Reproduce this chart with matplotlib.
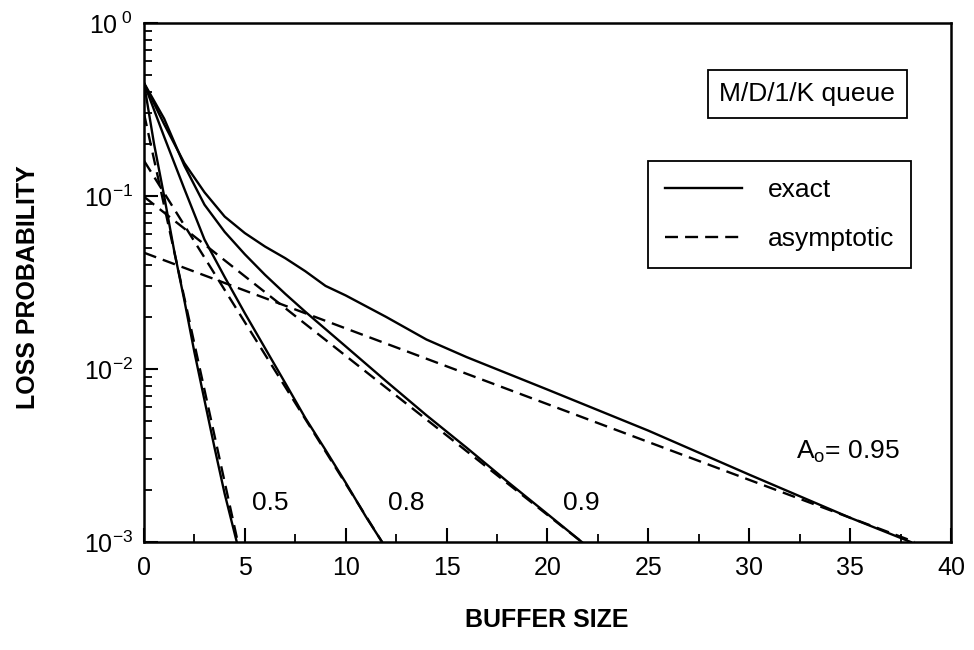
import numpy as np
import matplotlib
matplotlib.use('Agg')
import matplotlib.pyplot as plt
from matplotlib.ticker import FixedLocator, LogLocator, NullFormatter, MultipleLocator

plt.rcParams['font.family'] = ['Liberation Sans', 'DejaVu Sans']
plt.rcParams['mathtext.fontset'] = 'custom'
plt.rcParams['mathtext.rm'] = 'Liberation Sans'
plt.rcParams['mathtext.it'] = 'Liberation Sans'

# exact loss probability curves
x_05 = [0, 0.5, 1, 1.5, 2, 2.5, 3, 3.5, 4, 4.6]
p_05 = [0.45, 0.20, 0.10, 0.048, 0.025, 0.0125, 0.0066, 0.0035, 0.0019, 0.001]

x_08 = [0, 1, 2, 3, 4, 5, 6, 7, 8, 9, 10, 11, 11.8]
p_08 = [0.45, 0.22, 0.11, 0.056, 0.034, 0.021, 0.0132, 0.0083, 0.0052, 0.0034, 0.0022, 0.0014, 0.001]

x_09 = [0, 1, 2, 3, 4, 5, 6, 7, 8, 10, 12, 14, 16, 18, 20, 21.7]
p_09 = [0.45, 0.28, 0.15, 0.089, 0.062, 0.046, 0.035, 0.0272, 0.0214, 0.0135, 0.0085, 0.0054, 0.0035, 0.00224, 0.00145, 0.001]

x_095 = [0, 1, 2, 3, 4, 5, 6, 7, 8, 9, 10, 12, 14, 16, 20, 25, 30, 35, 38]
p_095 = [0.45, 0.26, 0.155, 0.105, 0.076, 0.061, 0.051, 0.0437, 0.0367, 0.0302, 0.0266, 0.02, 0.0148, 0.0117, 0.0076, 0.0044, 0.00245, 0.00138, 0.001]

# asymptotic approximations (straight lines on the semilog plot)
xa_05 = [0, 4.65]
pa_05 = [0.30, 0.001]
xa_08 = [0, 11.8]
pa_08 = [0.16, 0.001]
xa_09 = [0, 21.7]
pa_09 = [0.099, 0.001]
xa_095 = [0, 38.2]
pa_095 = [0.047, 0.001]

curve_labels = ['0.5', '0.8', '0.9']
label_x = [6.25, 13.0, 21.7]
label_y = 0.00168

fig = plt.figure(figsize=(9.74, 6.5), dpi=100)
ax = fig.add_axes([0.1478, 0.1662, 0.8286, 0.7985])

lw = 1.7
dash = (5.5, 3.0)
for xs, ps in [(x_05, p_05), (x_08, p_08), (x_09, p_09), (x_095, p_095)]:
    ax.plot(xs, ps, color='black', lw=lw, solid_joinstyle='round')
for xs, ps in [(xa_05, pa_05), (xa_08, pa_08), (xa_09, pa_09), (xa_095, pa_095)]:
    ax.plot(xs, ps, color='black', lw=lw, dashes=dash)

ax.set_yscale('log')
ax.set_xlim(0, 40)
ax.set_ylim(1e-3, 1)

ax.xaxis.set_major_locator(MultipleLocator(5))
ax.xaxis.set_minor_locator(MultipleLocator(2.5))
ax.yaxis.set_major_locator(FixedLocator([1e-3, 1e-2, 1e-1, 1]))
ax.set_yticklabels([r'$\mathregular{10^{-3}}$', r'$\mathregular{10^{-2}}$',
                    r'$\mathregular{10^{-1}}$', r'$\mathregular{10^{\ 0}}$'])
ax.yaxis.set_minor_locator(LogLocator(base=10, subs=np.arange(2, 10)))
ax.yaxis.set_minor_formatter(NullFormatter())
ax.tick_params(which='both', direction='in', labelsize=18, top=False, right=False)
ax.tick_params(which='major', length=10, width=1.5)
ax.tick_params(axis='x', which='major', pad=10)
ax.tick_params(axis='y', which='major', pad=8)
ax.tick_params(which='minor', length=6, width=1.3)
for s in ax.spines.values():
    s.set_linewidth(1.8)

# legend
ax.plot([], [], color='black', lw=lw, label='exact')
ax.plot([], [], color='black', lw=lw, dashes=dash, label='asymptotic')
h, l = ax.get_legend_handles_labels()
leg = ax.legend(h[-2:], l[-2:], loc='upper right', bbox_to_anchor=(0.951, 0.734),
                fontsize=19, handlelength=2.9, handletextpad=1.0, labelspacing=0.95,
                borderpad=0.65, borderaxespad=0, fancybox=False, edgecolor='black',
                framealpha=1)
leg.get_frame().set_linewidth(1.3)

ax.text(0.822, 0.863, 'M/D/1/K queue', transform=ax.transAxes, ha='center', va='center',
        fontsize=19, bbox=dict(boxstyle='square,pad=0.45', fc='white', ec='black', lw=1.3))

for t, xv in zip(curve_labels, label_x):
    ax.text(xv, label_y, t, ha='center', va='center', fontsize=19)
ax.text(34.9, 0.0033, r'A$_\mathregular{o}$= 0.95', ha='center', va='center', fontsize=19)

fig.text(28 / 974, 1 - 287 / 650, 'LOSS PROBABILITY', rotation=90, ha='center', va='center',
         fontsize=18, fontweight='bold')
fig.text(0.5617, 1 - 620 / 650, 'BUFFER SIZE', ha='center', va='center',
         fontsize=18, fontweight='bold')

fig.savefig('out.png', dpi=100)
